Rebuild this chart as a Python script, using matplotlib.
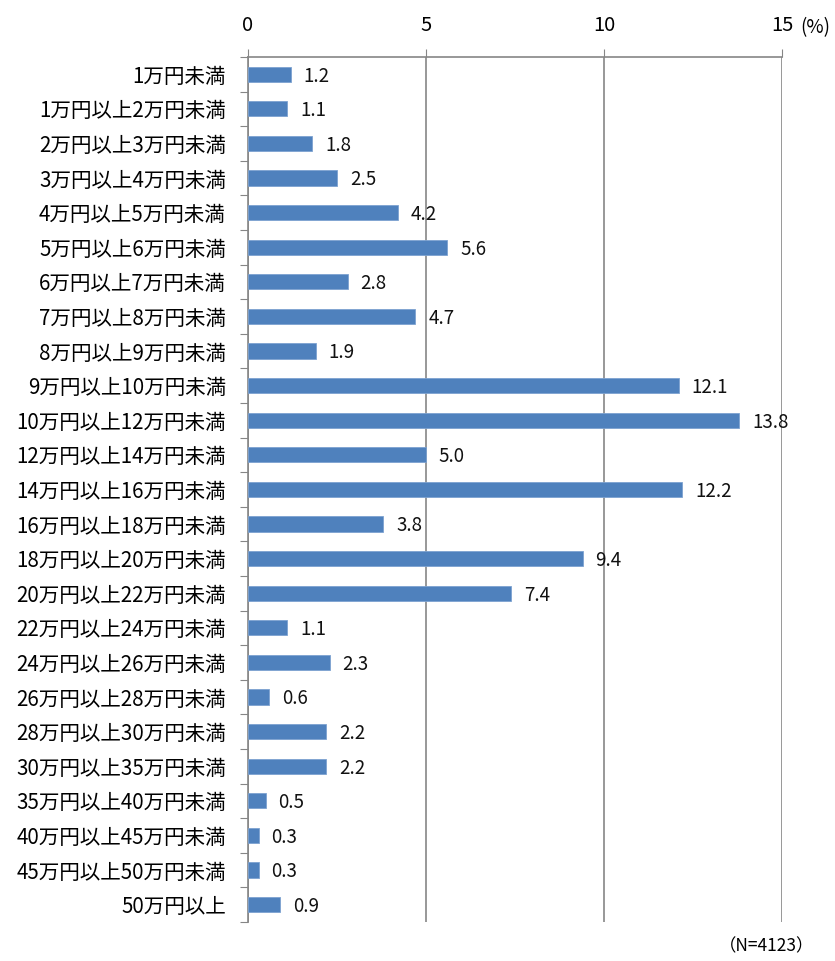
import matplotlib as mpl
mpl.use('Agg')
import matplotlib.pyplot as plt
import numpy as np

plt.rcParams['font.family'] = ['Noto Sans CJK JP', 'DejaVu Sans']

categories = ['1万円未満', '1万円以上2万円未満', '2万円以上3万円未満', '3万円以上4万円未満',
              '4万円以上5万円未満', '5万円以上6万円未満', '6万円以上7万円未満', '7万円以上8万円未満',
              '8万円以上9万円未満', '9万円以上10万円未満', '10万円以上12万円未満', '12万円以上14万円未満',
              '14万円以上16万円未満', '16万円以上18万円未満', '18万円以上20万円未満', '20万円以上22万円未満',
              '22万円以上24万円未満', '24万円以上26万円未満', '26万円以上28万円未満', '28万円以上30万円未満',
              '30万円以上35万円未満', '35万円以上40万円未満', '40万円以上45万円未満', '45万円以上50万円未満',
              '50万円以上']
values = [1.2, 1.1, 1.8, 2.5, 4.2, 5.6, 2.8, 4.7, 1.9, 12.1, 13.8, 5.0, 12.2, 3.8, 9.4, 7.4,
          1.1, 2.3, 0.6, 2.2, 2.2, 0.5, 0.3, 0.3, 0.9]
xticks = [0, 5, 10, 15]

grey = '#868686'
fig = plt.figure(figsize=(8.35, 9.61), dpi=100)
ax = fig.add_axes([0.297, 0.0406, 0.6395, 0.9001])

y = np.arange(len(categories))
ax.barh(y, values, height=0.44, color='#4F81BD', edgecolor='#7DA2D0', lw=0.6, zorder=3)
for yi, v in zip(y, values):
    ax.text(v + 0.36, yi + 0.05, f'{v:.1f}', va='center', ha='left', fontsize=13.5, color='#111111')

ax.set_ylim(len(categories) - 0.5, -0.5)
ax.set_xlim(0, 15)
ax.set_yticks(np.arange(len(categories) + 1) - 0.5, minor=False)
ax.set_yticklabels([])
ax.set_yticks(y, minor=True)
ax.set_yticklabels(categories, minor=True, fontsize=14.8)
ax.tick_params(axis='y', which='minor', length=0, pad=16)
ax.tick_params(axis='y', which='major', length=6, color=grey, direction='out')

ax.xaxis.tick_top()
ax.set_xticks(xticks)
ax.set_xticklabels([str(t) for t in xticks], fontsize=14.5)
ax.tick_params(axis='x', length=6, color=grey, pad=9)
ax.grid(axis='x', color=grey, lw=1.2, zorder=0)

for s in ['right', 'bottom']:
    ax.spines[s].set_visible(False)
ax.spines['top'].set_color(grey)
ax.spines['left'].set_color(grey)
ax.spines['top'].set_linewidth(1.2)
ax.spines['left'].set_linewidth(1.2)

fig.text(0.958, 0.971, '(%)', fontsize=13.5, ha='left', va='center')
fig.text(0.975, 0.015, '（N=4123）', fontsize=12.5, ha='right', va='center')

plt.savefig('out.png', dpi=100)
plt.close()
